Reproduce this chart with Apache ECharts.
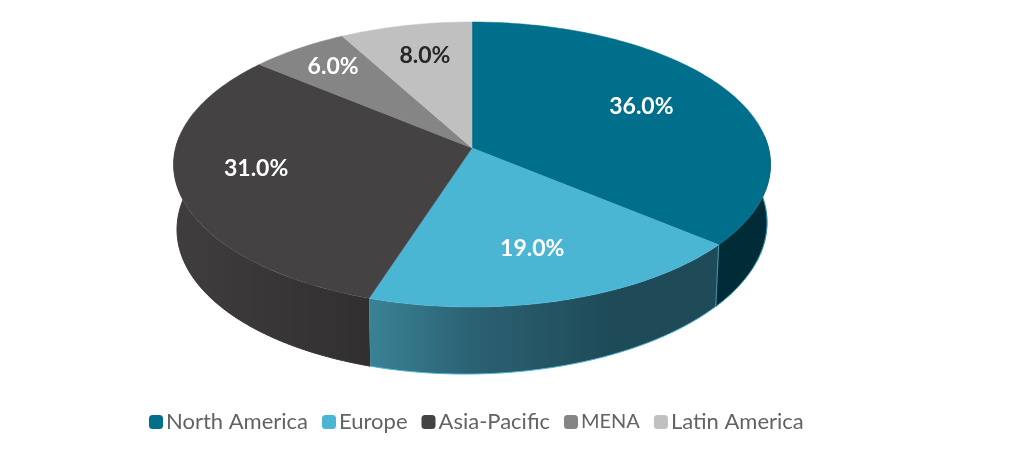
<!DOCTYPE html>
<html><head><meta charset="utf-8">
<style>html,body{margin:0;padding:0;background:#fff}#c{width:1024px;height:470px}</style>
<script src="https://cdn.jsdelivr.net/npm/echarts@6/dist/echarts.min.js"></script>
</head><body><div id="c"></div>
<script>
const regions = ['North America','Europe','Asia-Pacific','MENA','Latin America'];
const shares = [36, 19, 31, 6, 8];
const topColors = ['#006f8c','#4bb5d4','#454243','#858585','#c0c0c0'];
const labelColors = ['#fff','#fff','#fff','#fff','#262626'];
const labelRadius = [0.667,0.689,0.73,0.796,0.736];
const labelNudgeDeg = [-2.3,0.4,5,0.5,0.9];
const legendFontSizes = [22,22,22,20,22];
const wallFills = [
  '#002c38',
  {type:'linear',x:0,y:0,x2:1,y2:0,colorStops:[{offset:0,color:'#3b8296'},{offset:.3,color:'#2b6172'},{offset:.7,color:'#1f4a58'},{offset:1,color:'#1f4a58'}]},
  {type:'linear',x:0,y:0,x2:1,y2:0,colorStops:[{offset:0,color:'#403d3e'},{offset:1,color:'#322f30'}]},
  '#555','#777'
];
const wallEdges = ['#2f93ad','#4bb5d4','#3a3738','#555','#777'];

const CX=472, TOPY=148, R=296.5, H=140.6, K=0.1158;
const BOTY=208.9, BR=293, BH=146, KB=0.1158, BSKEW=-0.012;
const total = shares.reduce((a,b)=>a+b,0);
function topPt(deg,r){r=r===undefined?1:r;const t=deg*Math.PI/180,u=r*Math.sin(t),v=-r*Math.cos(t),d=1-K*v;return [CX+R*u/d,TOPY+H*v/d];}
function botPt(deg){const t=deg*Math.PI/180,u=Math.sin(t),v=-Math.cos(t),d=1-KB*v,dx=BR*u/d;return [CX+dx,BOTY+BH*v/d+BSKEW*dx];}
function arc(a,b,f){const n=Math.max(2,Math.ceil(Math.abs(b-a)));const o=[];for(let i=0;i<=n;i++)o.push(f(a+(b-a)*i/n));return o;}
function renderSlice(idx){
  return function(params,api){
    const val=api.value(0);
    let before=0;for(let i=0;i<idx;i++)before+=shares[i];
    const a=before/total*360,b=(before+val)/total*360;
    const kids=[];
    // visible wall: keep the front part of the arc only
    const lo=Math.max(a,85),hi=Math.min(b,275);
    if(hi>lo){
      const pts=arc(lo,hi,topPt).concat(arc(hi,lo,botPt));
      kids.push({type:'polygon',z2:1,shape:{points:pts},style:{fill:wallFills[idx],stroke:wallFills[idx].type?null:wallFills[idx],lineWidth:.5}});
      kids.push({type:'polyline',z2:2,shape:{points:arc(lo,hi,botPt)},style:{fill:null,stroke:wallEdges[idx],lineWidth:1}});
      if(idx===0)kids.push({type:'polyline',z2:2,shape:{points:[topPt(b),botPt(b)]},style:{fill:null,stroke:'#3b8ba3',lineWidth:1.2}});
    }
    const face=[[CX,TOPY]].concat(arc(a,b,topPt));
    kids.push({type:'polygon',z2:5,shape:{points:face},style:{fill:topColors[idx],stroke:topColors[idx],lineWidth:.5}});
    const m=topPt((a+b)/2+labelNudgeDeg[idx],labelRadius[idx]);
    kids.push({type:'text',z2:9,style:{text:val.toFixed(1)+'%',x:m[0],y:m[1],align:'center',verticalAlign:'middle',fill:labelColors[idx],font:'bold 23px Lato, sans-serif'}});
    return {type:'group',children:kids};
  };
}
const chart=echarts.init(document.getElementById('c'),null,{renderer:'canvas'});
chart.setOption({
  animation:false,
  color:topColors,
  legend:{top:406,left:144,icon:'roundRect',itemWidth:14,itemHeight:14,itemGap:14,selectedMode:false,
    data:regions.map((n,i)=>({name:n,textStyle:{fontSize:legendFontSizes[i]}})),
    textStyle:{color:'#636363',fontSize:22,fontFamily:'Lato, sans-serif',padding:[0,0,0,-2]}},
  series:regions.map((n,i)=>({type:'custom',name:n,coordinateSystem:'none',z:2,silent:true,
    renderItem:renderSlice(i),itemStyle:{color:topColors[i]},data:[[shares[i]]]}))
});
</script></body></html>
